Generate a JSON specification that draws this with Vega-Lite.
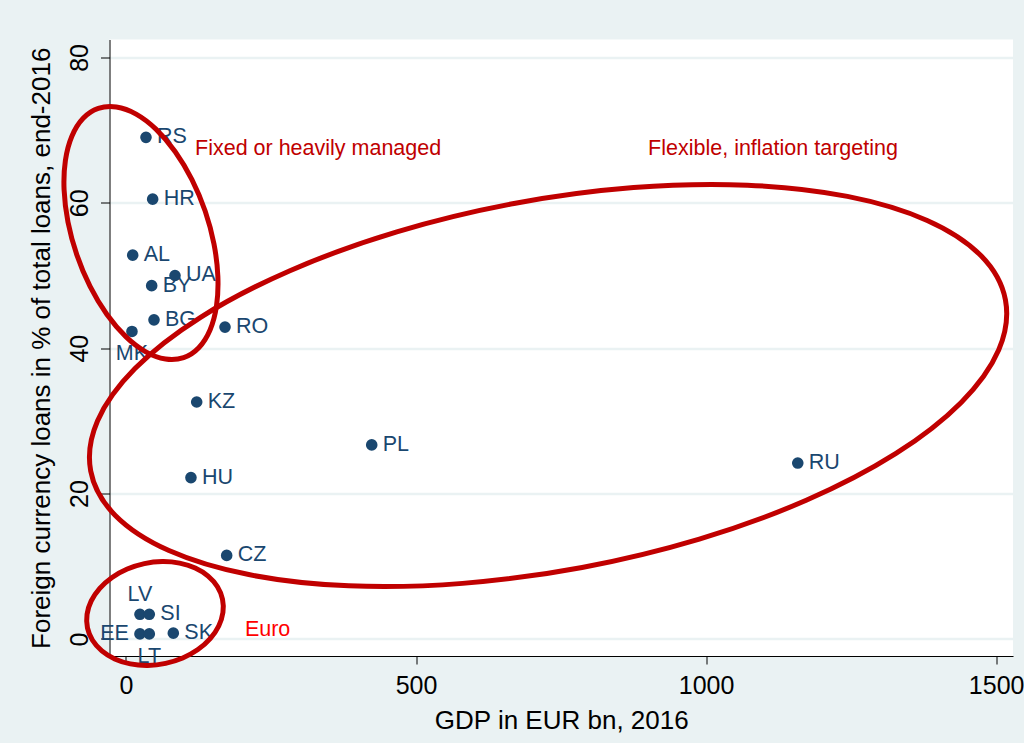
{
  "$schema": "https://vega.github.io/schema/vega-lite/v6.json",
  "width": 903.5,
  "height": 616.5,
  "autosize": {"type": "none"},
  "padding": {"left": 109.5, "top": 39.5, "right": 10.5, "bottom": 87},
  "background": "#eaf2f3",
  "config": {"view": {"fill": "white", "stroke": null}, "font": "Liberation Sans"},
  "datasets": {
    "pts": [
      {"c": "RS", "x": 34.5, "y": 69.0},
      {"c": "HR", "x": 46.0, "y": 60.5},
      {"c": "AL", "x": 11.6, "y": 52.8},
      {"c": "UA", "x": 84.5, "y": 50.0},
      {"c": "BY", "x": 44.3, "y": 48.6},
      {"c": "BG", "x": 48.3, "y": 43.9},
      {"c": "MK", "x": 10.3, "y": 42.3},
      {"c": "RO", "x": 170.7, "y": 42.9},
      {"c": "KZ", "x": 121.9, "y": 32.6},
      {"c": "PL", "x": 423.6, "y": 26.7},
      {"c": "HU", "x": 112.0, "y": 22.2},
      {"c": "RU", "x": 1158.0, "y": 24.2},
      {"c": "CZ", "x": 173.6, "y": 11.5},
      {"c": "LV", "x": 24.1, "y": 3.4},
      {"c": "SI", "x": 40.2, "y": 3.4},
      {"c": "EE", "x": 24.1, "y": 0.7},
      {"c": "LT", "x": 40.2, "y": 0.7},
      {"c": "SK", "x": 81.6, "y": 0.8}
    ],
    "ell": [
      {"g": "fixed", "i": 0, "x": 99.4, "y": 38.71},
      {"g": "fixed", "i": 1, "x": 68.3, "y": 38.51},
      {"g": "fixed", "i": 2, "x": 34.2, "y": 39.49},
      {"g": "fixed", "i": 3, "x": -0.3, "y": 41.59},
      {"g": "fixed", "i": 4, "x": -33.1, "y": 44.66},
      {"g": "fixed", "i": 5, "x": -61.9, "y": 48.49},
      {"g": "fixed", "i": 6, "x": -84.7, "y": 52.83},
      {"g": "fixed", "i": 7, "x": -100.0, "y": 57.36},
      {"g": "fixed", "i": 8, "x": -106.7, "y": 61.80},
      {"g": "fixed", "i": 9, "x": -104.4, "y": 65.83},
      {"g": "fixed", "i": 10, "x": -93.1, "y": 69.18},
      {"g": "fixed", "i": 11, "x": -73.8, "y": 71.62},
      {"g": "fixed", "i": 12, "x": -47.7, "y": 72.98},
      {"g": "fixed", "i": 13, "x": -16.6, "y": 73.18},
      {"g": "fixed", "i": 14, "x": 17.5, "y": 72.20},
      {"g": "fixed", "i": 15, "x": 52.1, "y": 70.10},
      {"g": "fixed", "i": 16, "x": 84.9, "y": 67.03},
      {"g": "fixed", "i": 17, "x": 113.7, "y": 63.20},
      {"g": "fixed", "i": 18, "x": 136.5, "y": 58.87},
      {"g": "fixed", "i": 19, "x": 151.7, "y": 54.33},
      {"g": "fixed", "i": 20, "x": 158.4, "y": 49.89},
      {"g": "fixed", "i": 21, "x": 156.1, "y": 45.86},
      {"g": "fixed", "i": 22, "x": 144.9, "y": 42.51},
      {"g": "fixed", "i": 23, "x": 125.5, "y": 40.07},
      {"g": "flex", "i": 0, "x": 1516.0, "y": 46.63},
      {"g": "flex", "i": 1, "x": 1504.3, "y": 39.75},
      {"g": "flex", "i": 2, "x": 1439.7, "y": 32.54},
      {"g": "flex", "i": 3, "x": 1326.6, "y": 25.49},
      {"g": "flex", "i": 4, "x": 1172.6, "y": 19.08},
      {"g": "flex", "i": 5, "x": 988.3, "y": 13.74},
      {"g": "flex", "i": 6, "x": 786.2, "y": 9.84},
      {"g": "flex", "i": 7, "x": 580.2, "y": 7.65},
      {"g": "flex", "i": 8, "x": 384.2, "y": 7.31},
      {"g": "flex", "i": 9, "x": 211.6, "y": 8.86},
      {"g": "flex", "i": 10, "x": 74.1, "y": 12.17},
      {"g": "flex", "i": 11, "x": -18.8, "y": 17.03},
      {"g": "flex", "i": 12, "x": -60.8, "y": 23.11},
      {"g": "flex", "i": 13, "x": -49.1, "y": 29.99},
      {"g": "flex", "i": 14, "x": 15.5, "y": 37.20},
      {"g": "flex", "i": 15, "x": 128.6, "y": 44.25},
      {"g": "flex", "i": 16, "x": 282.6, "y": 50.66},
      {"g": "flex", "i": 17, "x": 466.9, "y": 56.00},
      {"g": "flex", "i": 18, "x": 668.9, "y": 59.90},
      {"g": "flex", "i": 19, "x": 875.0, "y": 62.09},
      {"g": "flex", "i": 20, "x": 1071.0, "y": 62.42},
      {"g": "flex", "i": 21, "x": 1243.6, "y": 60.88},
      {"g": "flex", "i": 22, "x": 1381.1, "y": 57.57},
      {"g": "flex", "i": 23, "x": 1474.0, "y": 52.71},
      {"g": "euro", "i": 0, "x": 166.4, "y": 5.48},
      {"g": "euro", "i": 1, "x": 167.1, "y": 3.64},
      {"g": "euro", "i": 2, "x": 159.9, "y": 1.79},
      {"g": "euro", "i": 3, "x": 145.2, "y": 0.05},
      {"g": "euro", "i": 4, "x": 124.0, "y": -1.45},
      {"g": "euro", "i": 5, "x": 97.8, "y": -2.61},
      {"g": "euro", "i": 6, "x": 68.3, "y": -3.35},
      {"g": "euro", "i": 7, "x": 37.5, "y": -3.63},
      {"g": "euro", "i": 8, "x": 7.6, "y": -3.42},
      {"g": "euro", "i": 9, "x": -19.3, "y": -2.74},
      {"g": "euro", "i": 10, "x": -41.6, "y": -1.63},
      {"g": "euro", "i": 11, "x": -57.7, "y": -0.17},
      {"g": "euro", "i": 12, "x": -66.4, "y": 1.53},
      {"g": "euro", "i": 13, "x": -67.1, "y": 3.38},
      {"g": "euro", "i": 14, "x": -59.9, "y": 5.23},
      {"g": "euro", "i": 15, "x": -45.2, "y": 6.96},
      {"g": "euro", "i": 16, "x": -24.0, "y": 8.46},
      {"g": "euro", "i": 17, "x": 2.2, "y": 9.62},
      {"g": "euro", "i": 18, "x": 31.7, "y": 10.37},
      {"g": "euro", "i": 19, "x": 62.5, "y": 10.65},
      {"g": "euro", "i": 20, "x": 92.4, "y": 10.44},
      {"g": "euro", "i": 21, "x": 119.3, "y": 9.76},
      {"g": "euro", "i": 22, "x": 141.6, "y": 8.65},
      {"g": "euro", "i": 23, "x": 157.7, "y": 7.19}
    ],
    "notes": [
      {"label": "Fixed or heavily managed", "x": 119, "y": 67.4},
      {"label": "Flexible, inflation targeting", "x": 900, "y": 67.4},
      {"label": "Euro", "x": 205, "y": 1.3}
    ]
  },
  "encoding": {
    "x": {
      "field": "x", "type": "quantitative",
      "scale": {"domain": [-28.4, 1529], "nice": false, "zero": false},
      "axis": {
        "values": [0, 500, 1000, 1500], "format": "d", "title": "GDP in EUR bn, 2016", "grid": false,
        "domainColor": "black", "domainWidth": 1, "tickColor": "black", "tickSize": 8,
        "labelFontSize": 25, "labelColor": "black", "labelPadding": 9, "labelFlush": false, "labelOverlap": false,
        "titleFontSize": 26, "titleFontWeight": "normal", "titleColor": "black", "titlePadding": 9
      }
    },
    "y": {
      "field": "y", "type": "quantitative",
      "scale": {"domain": [-2.34, 82.46], "nice": false, "zero": false},
      "axis": {
        "values": [0, 20, 40, 60, 80], "format": "d", "title": "Foreign currency loans in % of total loans, end-2016",
        "grid": true, "gridColor": "#eaf2f3", "gridWidth": 2.5,
        "domainColor": "black", "domainWidth": 1, "tickColor": "black", "tickSize": 9,
        "labelAngle": 270, "labelAlign": "center", "labelBaseline": "bottom",
        "labelFontSize": 25, "labelColor": "black", "labelPadding": 8, "labelFlush": false, "labelOverlap": false,
        "titleFontSize": 26, "titleFontWeight": "normal", "titleColor": "black", "titlePadding": 13
      }
    }
  },
  "layer": [
    {"data": {"name": "pts"}, "mark": {"type": "circle", "size": 135, "opacity": 1, "color": "#1a476f"}},
    {
      "data": {"name": "pts"},
      "transform": [{"filter": {"not": {"field": "c", "oneOf": ["MK", "LV", "EE", "LT"]}}}],
      "mark": {"type": "text", "align": "left", "baseline": "middle", "dx": 11, "fontSize": 21.5, "color": "#1a476f"},
      "encoding": {"text": {"field": "c"}}
    },
    {
      "data": {"name": "pts"},
      "transform": [{"filter": {"field": "c", "oneOf": ["MK", "LT"]}}],
      "mark": {"type": "text", "align": "center", "baseline": "middle", "dy": 23, "fontSize": 21.5, "color": "#1a476f"},
      "encoding": {"text": {"field": "c"}}
    },
    {
      "data": {"name": "pts"},
      "transform": [{"filter": {"field": "c", "oneOf": ["LV"]}}],
      "mark": {"type": "text", "align": "center", "baseline": "middle", "dy": -19, "fontSize": 21.5, "color": "#1a476f"},
      "encoding": {"text": {"field": "c"}}
    },
    {
      "data": {"name": "pts"},
      "transform": [{"filter": {"field": "c", "oneOf": ["EE"]}}],
      "mark": {"type": "text", "align": "right", "baseline": "middle", "dx": -11, "fontSize": 21.5, "color": "#1a476f"},
      "encoding": {"text": {"field": "c"}}
    },
    {
      "data": {"name": "ell"},
      "mark": {"type": "line", "interpolate": "cardinal-closed", "strokeWidth": 5, "color": "#c00000", "clip": false},
      "encoding": {"detail": {"field": "g"}, "order": {"field": "i", "type": "quantitative"}}
    },
    {
      "data": {"name": "notes"},
      "mark": {"type": "text", "align": "left", "baseline": "middle", "fontSize": 21.5},
      "encoding": {
        "text": {"field": "label"},
        "color": {"field": "label", "type": "nominal", "legend": null,
          "scale": {"domain": ["Fixed or heavily managed", "Flexible, inflation targeting", "Euro"], "range": ["#c00000", "#c00000", "#ff0000"]}}
      }
    }
  ]
}
